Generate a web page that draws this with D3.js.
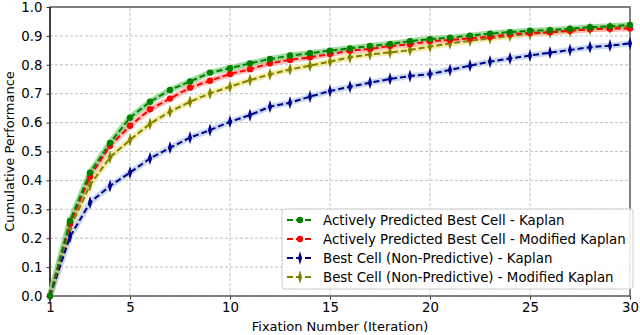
<!DOCTYPE html>
<html>
<head>
<meta charset="utf-8">
<script src="https://cdn.jsdelivr.net/npm/d3@7"></script>
<style>
  body { margin: 0; background: #fff; }
  svg { display: block; font-family: "DejaVu Sans", sans-serif; }
</style>
</head>
<body>
<div id="chart"></div>
<script>
const iterations = d3.range(1, 31);

const activeKaplan = [0.0, 0.26, 0.427, 0.53, 0.617, 0.672, 0.713, 0.742, 0.773, 0.788,
  0.805, 0.82, 0.832, 0.84, 0.849, 0.857, 0.865, 0.872, 0.882, 0.889,
  0.894, 0.901, 0.908, 0.913, 0.918, 0.92, 0.925, 0.93, 0.933, 0.938];
const activeModified = [0.0, 0.25, 0.413, 0.52, 0.589, 0.646, 0.683, 0.721, 0.745, 0.768,
  0.785, 0.805, 0.817, 0.826, 0.837, 0.849, 0.855, 0.865, 0.871, 0.882,
  0.886, 0.892, 0.897, 0.906, 0.91, 0.913, 0.918, 0.923, 0.925, 0.926];
const bestKaplan = [0.0, 0.205, 0.323, 0.381, 0.427, 0.476, 0.513, 0.548, 0.574, 0.603,
  0.626, 0.655, 0.669, 0.69, 0.709, 0.724, 0.738, 0.751, 0.761, 0.768,
  0.782, 0.797, 0.811, 0.822, 0.832, 0.842, 0.851, 0.861, 0.866, 0.874];
const bestModified = [0.0, 0.234, 0.384, 0.48, 0.54, 0.596, 0.638, 0.672, 0.701, 0.724,
  0.747, 0.767, 0.784, 0.797, 0.811, 0.826, 0.836, 0.843, 0.851, 0.863,
  0.874, 0.883, 0.892, 0.9, 0.907, 0.912, 0.917, 0.924, 0.928, 0.934];

const xTicks = [1, 5, 10, 15, 20, 25, 30];
const yTicks = d3.range(0, 11).map(i => i / 10);

const series = [
  { name: "Actively Predicted Best Cell - Kaplan", values: activeKaplan, color: "#008000", band: "#7fd07f", marker: "circle" },
  { name: "Actively Predicted Best Cell - Modified Kaplan", values: activeModified, color: "#ff0000", band: "#ffa8a0", marker: "circle" },
  { name: "Best Cell (Non-Predictive) - Kaplan", values: bestKaplan, color: "#00008b", band: "#b8cce8", marker: "diamond" },
  { name: "Best Cell (Non-Predictive) - Modified Kaplan", values: bestModified, color: "#808000", band: "#f0e68c", marker: "diamond" }
];

const width = 640, height = 335;
const margin = { top: 7, right: 10, bottom: 39, left: 50 };

const svg = d3.select("#chart").append("svg")
  .attr("width", width)
  .attr("height", height);

const x = d3.scaleLinear().domain([1, 30]).range([margin.left, width - margin.right]);
const y = d3.scaleLinear().domain([0, 1]).range([height - margin.bottom, margin.top]);

// grid
svg.append("g")
  .selectAll("line.gx")
  .data(xTicks)
  .enter().append("line")
    .attr("x1", d => x(d)).attr("x2", d => x(d))
    .attr("y1", y(0)).attr("y2", y(1))
    .attr("stroke", "#b0b0b0").attr("stroke-width", 0.8)
    .attr("stroke-dasharray", "3,2");

svg.append("g")
  .selectAll("line.gy")
  .data(yTicks)
  .enter().append("line")
    .attr("x1", x(1)).attr("x2", x(30))
    .attr("y1", d => y(d)).attr("y2", d => y(d))
    .attr("stroke", "#b0b0b0").attr("stroke-width", 0.8)
    .attr("stroke-dasharray", "3,2");

// axes
const xAxis = svg.append("g")
  .attr("transform", `translate(0,${y(0)})`)
  .call(d3.axisBottom(x).tickValues(xTicks).tickSize(3.5).tickPadding(3));
const yAxis = svg.append("g")
  .attr("transform", `translate(${x(1)},0)`)
  .call(d3.axisLeft(y).tickValues(yTicks).tickSize(3.5).tickPadding(4).tickFormat(d3.format(".1f")));

[xAxis, yAxis].forEach(a => {
  a.select(".domain").remove();
  a.selectAll("text").attr("font-size", 13.3).attr("fill", "#000").attr("font-family", "DejaVu Sans");
  a.selectAll(".tick line").attr("stroke", "#000").attr("stroke-width", 0.8);
});

// frame
svg.append("rect")
  .attr("x", x(1)).attr("y", y(1))
  .attr("width", x(30) - x(1)).attr("height", y(0) - y(1))
  .attr("fill", "none").attr("stroke", "#666").attr("stroke-width", 1.6);
svg.append("line")
  .attr("x1", x(1)).attr("x2", x(1)).attr("y1", y(0)).attr("y2", y(1))
  .attr("stroke", "#000").attr("stroke-width", 1);

const line = d3.line()
  .x((d, i) => x(iterations[i]))
  .y(d => y(d));

const diamond = d3.symbol().type(d3.symbolDiamond).size(30);

// draw series, last first so green is on top
const plot = svg.append("g");
series.slice().reverse().forEach(s => {
  plot.append("path")
    .attr("d", line(s.values))
    .attr("fill", "none")
    .attr("stroke", s.band)
    .attr("stroke-opacity", 0.75)
    .attr("stroke-width", 6)
    .attr("stroke-linejoin", "round");
});
series.slice().reverse().forEach(s => {
  const g = plot.append("g");
  g.append("path")
    .attr("d", line(s.values))
    .attr("fill", "none")
    .attr("stroke", s.color)
    .attr("stroke-width", 2)
    .attr("stroke-dasharray", "6,3");
  if (s.marker === "circle") {
    g.selectAll("circle")
      .data(s.values)
      .enter().append("circle")
        .attr("cx", (d, i) => x(iterations[i]))
        .attr("cy", d => y(d))
        .attr("r", 3.2)
        .attr("fill", s.color);
  } else {
    g.selectAll("path.m")
      .data(s.values)
      .enter().append("path")
        .attr("d", diamond)
        .attr("transform", (d, i) => `translate(${x(iterations[i])},${y(d)}) scale(0.7,1.3)`)
        .attr("fill", s.color);
  }
});

// labels
svg.append("text")
  .attr("x", (x(1) + x(30)) / 2).attr("y", 331)
  .attr("text-anchor", "middle").attr("font-size", 13)
  .text("Fixation Number (Iteration)");
svg.append("text")
  .attr("transform", `translate(14,${(y(0) + y(1)) / 2}) rotate(-90)`)
  .attr("text-anchor", "middle").attr("font-size", 13)
  .text("Cumulative Performance");

// legend
const legend = svg.append("g").attr("transform", "translate(282,209)");
legend.append("rect")
  .attr("width", 351).attr("height", 80).attr("rx", 3)
  .attr("fill", "#fff").attr("fill-opacity", 0.85)
  .attr("stroke", "#ccc");
series.forEach((s, i) => {
  const row = legend.append("g").attr("transform", `translate(0,${11 + i * 19})`);
  row.append("line")
    .attr("x1", 5).attr("x2", 31)
    .attr("stroke", s.color).attr("stroke-width", 2)
    .attr("stroke-dasharray", "6,3");
  if (s.marker === "circle") {
    row.append("circle").attr("cx", 18).attr("r", 3.2).attr("fill", s.color);
  } else {
    row.append("path").attr("d", diamond)
      .attr("transform", "translate(18,0) scale(0.7,1.3)").attr("fill", s.color);
  }
  row.append("text")
    .attr("x", 41).attr("dy", "0.35em")
    .attr("font-size", 13.35)
    .text(s.name);
});
</script>
</body>
</html>
